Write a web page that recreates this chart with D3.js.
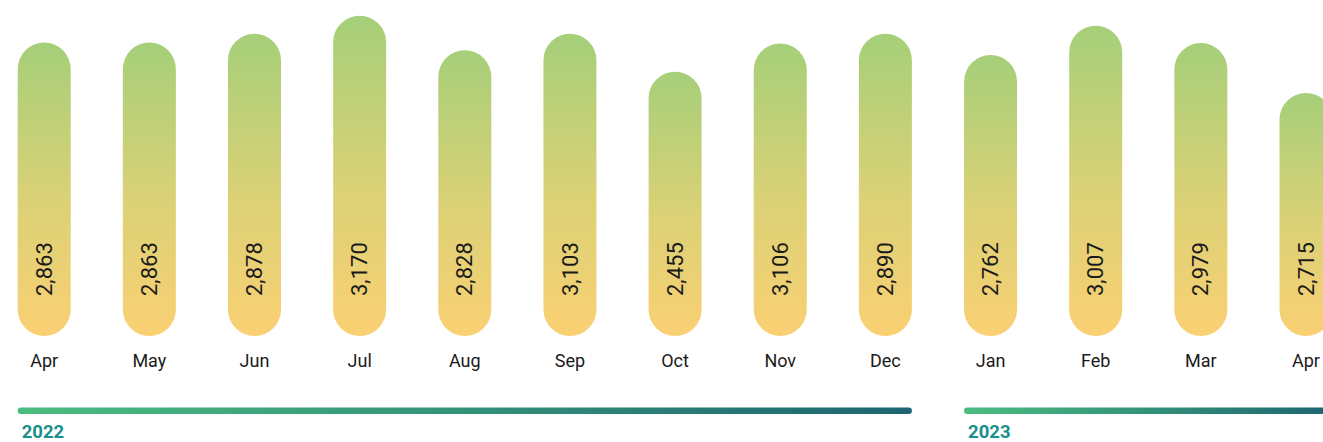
<!DOCTYPE html>
<html>
<head>
<meta charset="utf-8">
<script src="https://cdn.jsdelivr.net/npm/d3@7"></script>
<style>
  html, body { margin: 0; padding: 0; background: #fff; }
  svg { display: block; font-family: Roboto, "Noto Sans", sans-serif; }
</style>
</head>
<body>
<svg id="chart" width="1323" height="442"></svg>
<script>
// ---- data ----
const months = ["Apr","May","Jun","Jul","Aug","Sep","Oct","Nov","Dec","Jan","Feb","Mar","Apr"];
const years  = ["2022","2022","2022","2022","2022","2022","2022","2022","2022","2023","2023","2023","2023"];
const values = [2863, 2863, 2878, 3170, 2828, 3103, 2455, 3106, 2890, 2762, 3007, 2979, 2715];
// bar length index (bar heights in the picture follow a separate measure)
const barIndex = [91.6, 91.6, 94.4, 100, 89.2, 94.4, 82.5, 91.3, 94.4, 87.7, 96.9, 91.5, 75.9];
const yearLabels = ["2022", "2023"];

const keys = months.map((m, i) => years[i] + "-" + m + "-" + i);
const data = keys.map((k, i) => ({ key: k, month: months[i], year: years[i], value: values[i], idx: barIndex[i] }));

const svg = d3.select("#chart");
const barW = 53;
const x = d3.scalePoint().domain(keys).range([44.2, 44.2 + 105.15 * (keys.length - 1)]);
const y = d3.scaleLinear().domain([0, 100]).range([336, 15.7]);

const defs = svg.append("defs");
const g1 = defs.append("linearGradient").attr("id", "barGrad")
  .attr("x1", 0).attr("y1", 0).attr("x2", 0).attr("y2", 1);
g1.append("stop").attr("offset", "0%").attr("stop-color", "#a5cf79");
g1.append("stop").attr("offset", "55%").attr("stop-color", "#dcd176");
g1.append("stop").attr("offset", "100%").attr("stop-color", "#fad073");

const g2 = defs.append("linearGradient").attr("id", "yearGrad")
  .attr("x1", 0).attr("y1", 0).attr("x2", 1).attr("y2", 0);
g2.append("stop").attr("offset", "0%").attr("stop-color", "#4bbd80");
g2.append("stop").attr("offset", "100%").attr("stop-color", "#1d6571");

// bars
svg.append("g").selectAll("rect").data(data).join("rect")
  .attr("x", d => x(d.key) - barW / 2)
  .attr("y", d => y(d.idx))
  .attr("width", barW)
  .attr("height", d => y(0) - y(d.idx))
  .attr("rx", barW / 2).attr("ry", barW / 2)
  .attr("fill", "url(#barGrad)");

// value labels
const fmt = d3.format(",");
svg.append("g").selectAll("text").data(data).join("text")
  .attr("transform", d => `translate(${x(d.key) + 7.6},296) rotate(-90)`)
  .attr("text-anchor", "start")
  .attr("font-size", 22)
  .attr("fill", "#1a1a1a")
  .text(d => fmt(d.value));

// month labels
svg.append("g").selectAll("text").data(data).join("text")
  .attr("x", d => x(d.key))
  .attr("y", 366.5)
  .attr("text-anchor", "middle")
  .attr("font-size", 18)
  .attr("fill", "#1a1a1a")
  .text(d => d.month);

// year bars
const yearGroups = yearLabels.map(yr => {
  const ks = data.filter(d => d.year === yr).map(d => d.key);
  return { year: yr, x0: x(ks[0]) - barW / 2, x1: x(ks[ks.length - 1]) + barW / 2 };
});
svg.append("g").selectAll("rect").data(yearGroups).join("rect")
  .attr("x", d => d.x0)
  .attr("y", 407.5)
  .attr("width", d => d.x1 - d.x0)
  .attr("height", 6.4)
  .attr("rx", 3.2).attr("ry", 3.2)
  .attr("fill", "url(#yearGrad)");

svg.append("g").selectAll("text").data(yearGroups).join("text")
  .attr("x", d => d.x0 + 4)
  .attr("y", 438.3)
  .attr("font-size", 18.5)
  .attr("font-weight", "bold")
  .attr("fill", "#17908b")
  .text(d => d.year);
</script>
</body>
</html>
